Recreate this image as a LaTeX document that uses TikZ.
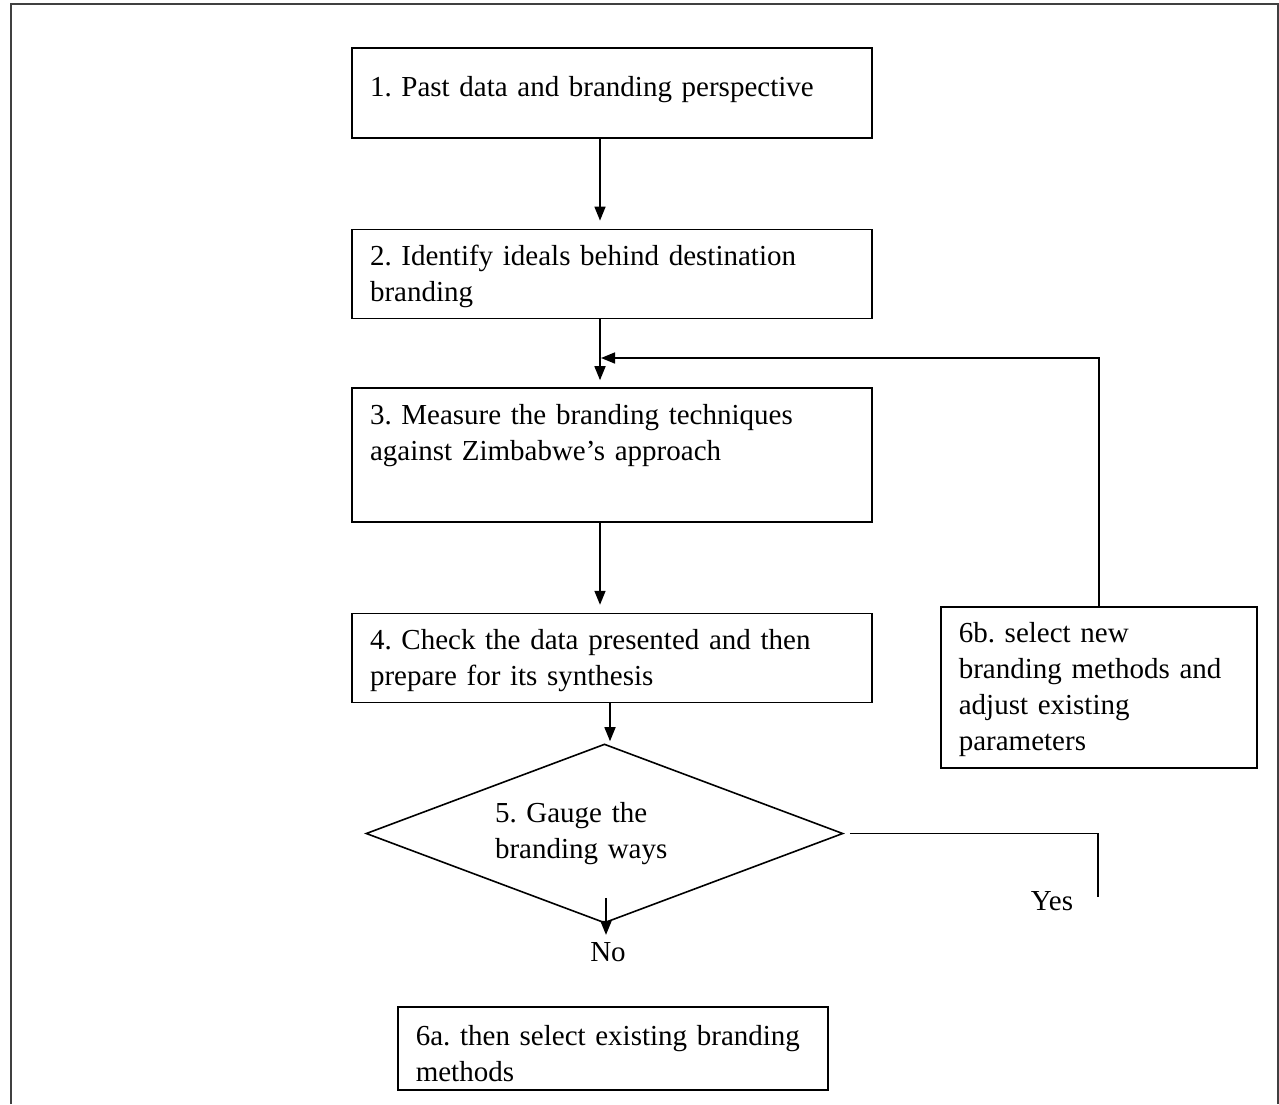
\documentclass[tikz,border=0pt]{standalone}
\usepackage{fontspec}
\setmainfont{Liberation Serif}
\frenchspacing
\hyphenpenalty=10000
\usetikzlibrary{arrows.meta,positioning,shapes.geometric,calc}

\begin{document}
\begin{tikzpicture}[x=0.5pt,y=-0.5pt,>={Triangle[length=7pt,width=5.5pt]},line width=0.8pt,
  font=\fontsize{14.5}{18}\selectfont,
  stepbox/.style={draw,text width=242pt,align=left,inner xsep=9pt,inner ysep=8pt,text height=10pt},
  sidebox/.style={stepbox,anchor=north west},
  gauge/.style={draw,diamond,aspect=2.66,minimum width=238.5pt,minimum height=89.5pt,text width=109.5pt,align=left,inner sep=1pt},
  frame/.style={draw=black!75,line width=1.1pt}]

  \useasboundingbox (0,0) rectangle (1279,1104);
  \draw[frame] (11,1104) |- (1278,4) -- (1278,1104);

  \node[stepbox,anchor=north,text height=16.5pt,text depth=12.5pt] (b1) at (612,47) {1. Past data and branding perspective};
  \node[stepbox,text depth=18.5pt] (b2) [below=45pt of b1] {2. Identify ideals behind destination\\branding};
  \node[stepbox,text depth=41pt] (b3) [below=34pt of b2] {3. Measure the branding techniques\\against Zimbabwe's approach};
  \node[stepbox,text depth=18.5pt] (b4) [below=45pt of b3] {4. Check the data presented and then\\prepare for its synthesis};
  \node[gauge] (dia) at (604.5,833.5) {5. Gauge the\\branding ways};
  \node[sidebox,text width=140pt,text depth=54.5pt] (b6b) at (940,606) {6b. select new\\branding methods and\\adjust existing\\parameters};
  \node[sidebox,text width=197pt,text height=11.5pt,text depth=14pt] (b6a) at (397,1006) {6a. then select existing branding\\methods};

  \node (no) at (608,952) {No};
  \node (yes) at (1052,901) {Yes};
  \coordinate (merge) at (601,358);
  \coordinate (yesend) at (1098,897);

  \draw[->,shorten >=4pt] ([xshift=-6pt]b1.south) -- ([xshift=-6pt]b2.north);
  \draw[->,shorten >=3.5pt] ([xshift=-6pt]b2.south) -- ([xshift=-6pt]b3.north);
  \draw[->] (b6b.north) |- (merge);
  \draw[->,shorten >=4pt] ([xshift=-6pt]b3.south) -- ([xshift=-6pt]b4.north);
  \draw[->,shorten >=1pt] ([xshift=-1pt]b4.south) -- ([xshift=-1pt]b4.south |- dia.north);
  \draw[->] ($(dia.south)+(1.5,-26)$) coordinate (nstart) -- (nstart |- no.north);
  \draw ([xshift=3pt]dia.east) -| (yesend);

\end{tikzpicture}
\end{document}
